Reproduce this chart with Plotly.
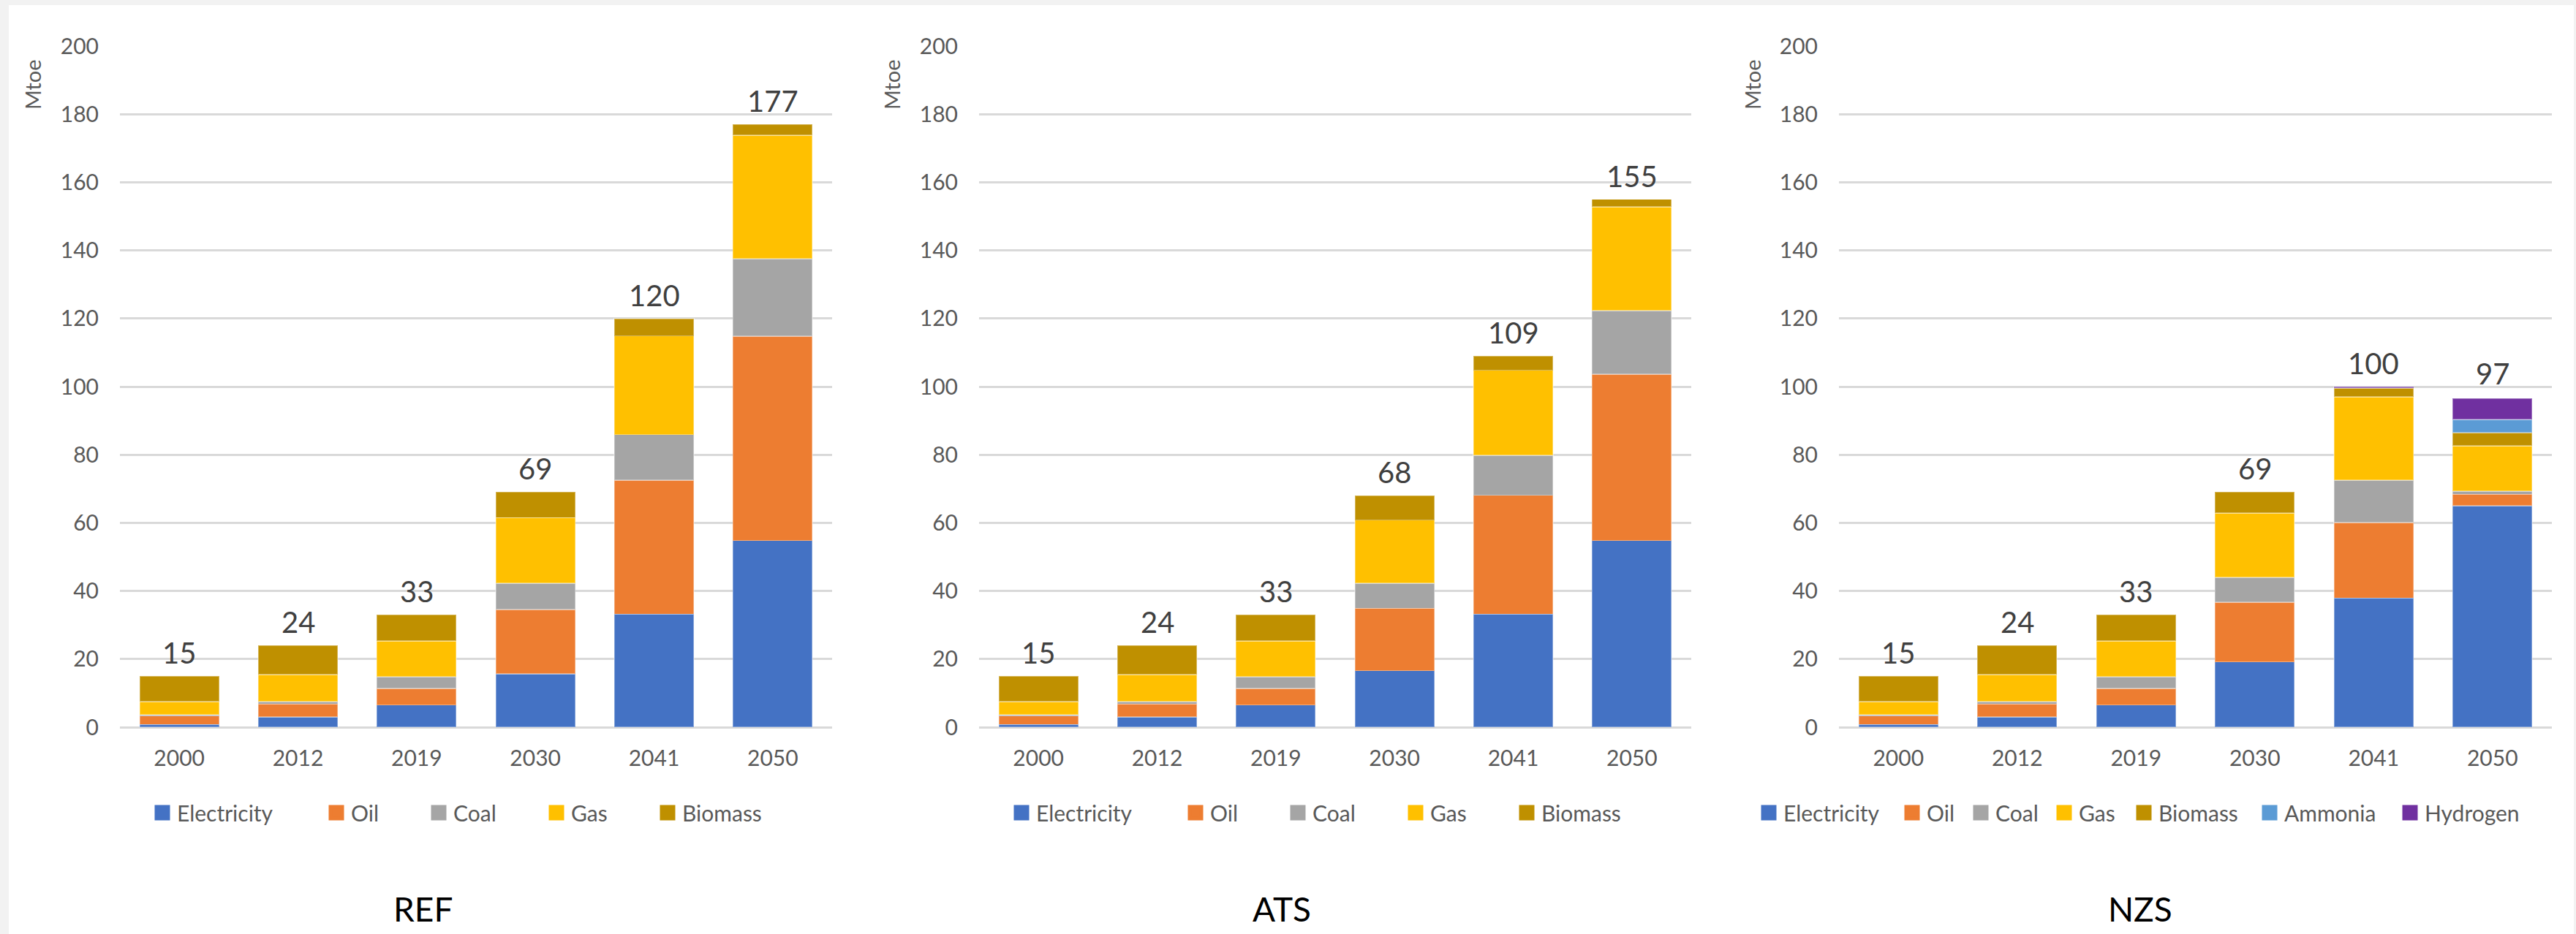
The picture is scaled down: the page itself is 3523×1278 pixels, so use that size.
import plotly.graph_objects as go

W, H = 3523, 1278
FONT = "Lato"

# ---------------- data ----------------
years = ["2000", "2012", "2019", "2030", "2041", "2050"]
y_tick_values = [0, 20, 40, 60, 80, 100, 120, 140, 160, 180, 200]
scenario_names = ["REF", "ATS", "NZS"]
axis_unit = "Mtoe"

ref_electricity = [0.8, 3.0, 6.5, 15.7, 33.2, 54.8]
ref_oil = [2.5, 3.8, 4.9, 18.9, 39.3, 60.0]
ref_coal = [0.4, 0.7, 3.4, 7.7, 13.4, 22.8]
ref_gas = [3.8, 7.9, 10.5, 19.2, 29.0, 36.2]
ref_biomass = [7.5, 8.6, 7.8, 7.5, 5.1, 3.2]
ref_totals = [15, 24, 33, 69, 120, 177]

ats_electricity = [0.8, 3.0, 6.5, 16.6, 33.2, 54.8]
ats_oil = [2.5, 3.8, 4.9, 18.3, 34.9, 48.8]
ats_coal = [0.4, 0.7, 3.4, 7.4, 11.7, 18.7]
ats_gas = [3.8, 7.9, 10.5, 18.5, 25.0, 30.5]
ats_biomass = [7.5, 8.6, 7.8, 7.2, 4.2, 2.2]
ats_totals = [15, 24, 33, 68, 109, 155]

nzs_electricity = [0.8, 3.0, 6.5, 19.2, 37.9, 65.0]
nzs_oil = [2.5, 3.8, 4.9, 17.5, 22.2, 3.4]
nzs_coal = [0.4, 0.7, 3.4, 7.3, 12.4, 0.9]
nzs_gas = [3.8, 7.9, 10.5, 18.9, 24.5, 13.3]
nzs_biomass = [7.5, 8.6, 7.8, 6.1, 2.6, 3.9]
nzs_ammonia = [None, None, None, None, None, 3.8]
nzs_hydrogen = [None, None, None, None, 0.4, 6.3]
nzs_totals = [15, 24, 33, 69, 100, 97]

# ---------------- styles / layout constants ----------------
colors = {
    "Electricity": "#4472C4",
    "Oil": "#ED7D31",
    "Coal": "#A5A5A5",
    "Gas": "#FFC000",
    "Biomass": "#BF9000",
    "Ammonia": "#5B9BD5",
    "Hydrogen": "#7030A0",
}

panels = [
    {"name": scenario_names[0], "series": [("Electricity", ref_electricity), ("Oil", ref_oil), ("Coal", ref_coal),
                                           ("Gas", ref_gas), ("Biomass", ref_biomass)], "totals": ref_totals},
    {"name": scenario_names[1], "series": [("Electricity", ats_electricity), ("Oil", ats_oil), ("Coal", ats_coal),
                                           ("Gas", ats_gas), ("Biomass", ats_biomass)], "totals": ats_totals},
    {"name": scenario_names[2], "series": [("Electricity", nzs_electricity), ("Oil", nzs_oil), ("Coal", nzs_coal),
                                           ("Gas", nzs_gas), ("Biomass", nzs_biomass), ("Ammonia", nzs_ammonia),
                                           ("Hydrogen", nzs_hydrogen)], "totals": nzs_totals},
]

plot_px = [(164, 1138), (1339, 2313), (2515, 3490)]   # plot-area pixel spans
y_top_px, y_bot_px = 63, 995
unit_x_px = [45, 1220, 2397]
unit_y_px = 116
title_x_px = [578, 1753, 2927]
title_y_px = 1243
legend_y_px = 1112
legend_marker_px = [
    [222, 460, 600, 761, 913],
    [1397, 1635, 1775, 1936, 2088],
    [2419, 2615, 2709, 2823, 2932, 3104, 3296],
]


def fx(p):
    return p / W


def fy(p):
    return 1 - p / H


fig = go.Figure()
layout = dict(
    width=W, height=H,
    margin=dict(l=0, r=0, t=0, b=0, pad=0, autoexpand=False),
    paper_bgcolor="#f2f2f2",
    plot_bgcolor="#ffffff",
    barmode="stack",
    bargap=0.33,
    showlegend=True,
    font=dict(family=FONT, color="#595959"),
    annotations=[],
    shapes=[dict(type="rect", xref="paper", yref="paper", x0=fx(12), x1=fx(3520), y0=-0.01, y1=fy(7),
                 fillcolor="#ffffff", line=dict(width=0), layer="below")],
)

legend_count = 0
for i, panel in enumerate(panels):
    sfx = "" if i == 0 else str(i + 1)
    xa, ya = "x" + sfx, "y" + sfx
    for name, vals in panel["series"]:
        fig.add_trace(go.Bar(
            x=years, y=vals, name=name, xaxis=xa, yaxis=ya,
            marker=dict(color=colors[name], line=dict(color="rgba(255,255,255,0.35)", width=1.5)),
            showlegend=False, hoverinfo="skip",
        ))
    # legend entries (one legend per entry, placed like the original)
    for j, (name, vals) in enumerate(panel["series"]):
        legend_count += 1
        lid = "legend" if legend_count == 1 else "legend%d" % legend_count
        fig.add_trace(go.Scatter(
            x=[years[0]], y=[None], mode="markers", name=name, xaxis=xa, yaxis=ya,
            marker=dict(symbol="square", size=16, color=colors[name], line=dict(color=colors[name], width=5)),
            legend=lid, showlegend=True, hoverinfo="skip",
        ))
        layout[lid] = dict(
            x=fx(legend_marker_px[i][j] - 20), xanchor="left",
            y=fy(legend_y_px), yanchor="middle",
            orientation="h", bgcolor="rgba(0,0,0,0)", borderwidth=0,
            font=dict(family=FONT, size=30, color="#595959"),
        )
    # totals above bars (category index positions)
    for k, tot in enumerate(panel["totals"]):
        layout["annotations"].append(dict(
            x=k, y=tot, xref=xa, yref=ya, text=str(tot), showarrow=False,
            yanchor="bottom", yshift=6, font=dict(family=FONT, size=40, color="#404040"),
        ))
    # unit label
    layout["annotations"].append(dict(
        x=fx(unit_x_px[i]), y=fy(unit_y_px), xref="paper", yref="paper", text=axis_unit,
        textangle=-90, showarrow=False, xanchor="center", yanchor="middle",
        font=dict(family=FONT, size=29, color="#595959"),
    ))
    # scenario title
    layout["annotations"].append(dict(
        x=fx(title_x_px[i]), y=fy(title_y_px), xref="paper", yref="paper", text=panel["name"],
        showarrow=False, xanchor="center", yanchor="middle",
        font=dict(family=FONT, size=46, color="#000000"),
    ))
    layout["xaxis" + sfx] = dict(
        domain=[fx(plot_px[i][0]), fx(plot_px[i][1])], anchor=ya, type="category",
        categoryorder="array", categoryarray=years, range=[-0.5, len(years) - 0.5],
        showgrid=False, showline=False, zeroline=False, ticks="", automargin=False,
        tickfont=dict(family=FONT, size=30, color="#595959"), ticklabelstandoff=22,
    )
    layout["yaxis" + sfx] = dict(
        domain=[fy(y_bot_px), fy(y_top_px)], anchor=xa, range=[0, 200],
        tickvals=y_tick_values, showgrid=True, gridcolor="#d9d9d9", gridwidth=2.5,
        zeroline=True, zerolinecolor="#d9d9d9", zerolinewidth=3, showline=False, ticks="",
        automargin=False,
        tickfont=dict(family=FONT, size=30, color="#595959"), ticklabelstandoff=28,
    )

fig.update_layout(**layout)
fig.write_html("out.html")
